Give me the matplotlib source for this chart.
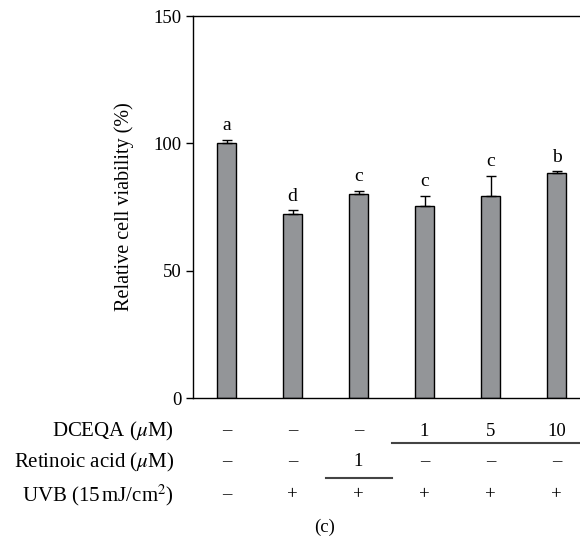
import matplotlib.pyplot as plt
from matplotlib import transforms

plt.rcParams['font.family'] = ['Liberation Serif', 'DejaVu Serif']
plt.rcParams['mathtext.fontset'] = 'stix'

# data
viability = [100.0, 72.3, 80.1, 75.5, 79.3, 88.2]
err_up = [1.5, 1.5, 1.2, 3.9, 7.9, 0.8]
letters = ['a', 'd', 'c', 'c', 'c', 'b']
dceqa = ['–', '–', '–', '1', '5', '10']
retinoic = ['–', '–', '1', '–', '–', '–']
uvb = ['–', '+', '+', '+', '+', '+']
row_labels = [r'DCEQA ($\mu$M)', r'Retinoic acid ($\mu$M)', r'UVB (15$\,$mJ/cm$^2$)']

fs = 13.5

fig = plt.figure(figsize=(5.8, 5.45), dpi=100)
ax = fig.add_axes([0.3328, 0.2697, 0.6672, 0.7009])

x = list(range(len(viability)))
ax.bar(x, viability, width=0.29, color='#939598', edgecolor='black', linewidth=1.0,
       yerr=[[0] * len(err_up), err_up], capsize=3.5,
       error_kw=dict(ecolor='black', elinewidth=1.0, capthick=1.0), zorder=2)

for xi, v, e, l in zip(x, viability, err_up, letters):
    ax.annotate(l, (xi, v + e), xytext=(0, 4), textcoords='offset points',
                ha='center', va='bottom', fontsize=14)

ax.set_xlim(-0.508, 5.356)
ax.set_ylim(0, 150)
ax.set_yticks([0, 50, 100, 150])
ax.set_xticks([])
ax.tick_params(axis='y', direction='out', length=5, width=1, labelsize=fs, pad=3)
ax.spines['right'].set_visible(False)
for s in ['left', 'top', 'bottom']:
    ax.spines[s].set_linewidth(1.0)
ax.set_ylabel('Relative cell viability (%)', fontsize=14.5, labelpad=14)

# treatment table under the axis
trans = transforms.blended_transform_factory(ax.transData, fig.transFigure)
rows_y = [1 - 431 / 545, 1 - 462 / 545, 1 - 495 / 545]
for vals, yy in zip([dceqa, retinoic, uvb], rows_y):
    for xi, t in zip(x, vals):
        ax.text(xi, yy, t, transform=trans, ha='center', va='center', fontsize=fs,
                clip_on=False)
for lab, yy in zip(row_labels, rows_y):
    fig.text(174 / 580, yy, lab, ha='right', va='center', fontsize=15)

ax.plot([2.5, 5.356], [1 - 443 / 545] * 2, transform=trans, color='#444444',
        lw=1.5, clip_on=False)
ax.plot([1.5, 2.5], [1 - 478 / 545] * 2, transform=trans, color='#444444',
        lw=1.5, clip_on=False)

fig.text(325 / 580, 1 - 527 / 545, '(c)', ha='center', va='center', fontsize=fs)

fig.savefig('out.png', dpi=100)
